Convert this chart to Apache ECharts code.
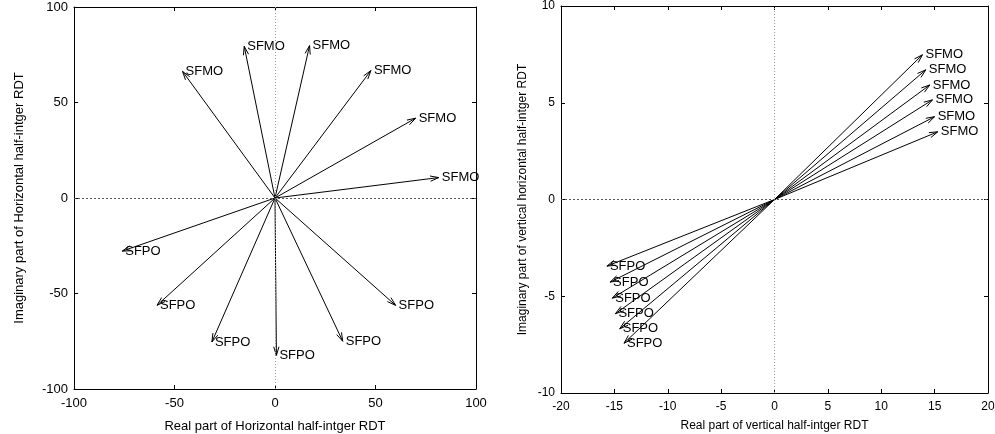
<!DOCTYPE html>
<html>
<head>
<meta charset="utf-8">
<script src="https://cdn.jsdelivr.net/npm/echarts@6/dist/echarts.min.js"></script>
<style>
  html, body { margin: 0; padding: 0; background: #fff; }
  #chart { width: 995px; height: 434px; }
</style>
</head>
<body>
<div id="chart"></div>
<script>
// horizontal half-integer RDT (left panel)
const hMoRe = [-46, -15.3, 17.2, 47.7, 70, 81.5]
const hMoIm = [66.3, 79.4, 79.8, 66.7, 41.8, 10.7]
const hPoRe = [-76, -58.7, -31.4, 0.7, 33.7, 60]
const hPoIm = [-27.8, -56.2, -75.4, -82.4, -75, -56.2]

// vertical half-integer RDT (right panel)
const vMoRe = [13.86, 14.17, 14.55, 14.8, 15.0, 15.3]
const vMoIm = [7.48, 6.7, 5.92, 5.15, 4.28, 3.5]
const vPoRe = [-15.7, -15.4, -15.2, -14.9, -14.5, -14.1]
const vPoIm = [-3.44, -4.27, -5.1, -5.9, -6.68, -7.43]

const hTicks = [-100, -50, 0, 50, 100]
const vTicksX = [-20, -15, -10, -5, 0, 5, 10, 15, 20]
const vTicksY = [-10, -5, 0, 5, 10]

const FONT = 'Liberation Sans, Arial, sans-serif'

function toData(re, im, name) {
  return re.map((x, i) => [x, im[i], name])
}

function renderArrow(params, api) {
  const o = api.coord([0, 0])
  const t = api.coord([api.value(0), api.value(1)])
  const dx = o[0] - t[0]
  const dy = o[1] - t[1]
  const len = Math.sqrt(dx * dx + dy * dy)
  const ux = dx / len
  const uy = dy / len
  const a = 17 * Math.PI / 180
  const hl = 9
  const h1 = [t[0] + hl * (ux * Math.cos(a) - uy * Math.sin(a)), t[1] + hl * (ux * Math.sin(a) + uy * Math.cos(a))]
  const h2 = [t[0] + hl * (ux * Math.cos(-a) - uy * Math.sin(-a)), t[1] + hl * (ux * Math.sin(-a) + uy * Math.cos(-a))]
  const stroke = { stroke: '#000', lineWidth: 1, fill: null }
  return {
    type: 'group',
    children: [
      { type: 'line', shape: { x1: o[0], y1: o[1], x2: t[0], y2: t[1] }, style: stroke },
      { type: 'polyline', shape: { points: [h1, t, h2] }, style: stroke },
      {
        type: 'text',
        style: {
          x: t[0] + 3, y: t[1], text: api.value(2),
          fill: '#000', font: '13px ' + FONT,
          verticalAlign: 'middle', align: 'left'
        }
      }
    ]
  }
}

const zeroLines = {
  silent: true,
  symbol: 'none',
  label: { show: false },
  lineStyle: { type: [2, 2], width: 1, color: '#555' },
  data: [
    { xAxis: 0, lineStyle: { type: [1, 2], color: '#999' } },
    { yAxis: 0 }
  ]
}

function axisPair(min, max, interval, fontSize, name, nameGap, gridIndex, isY) {
  const main = {
    type: 'value', gridIndex, min, max, interval,
    position: isY ? 'left' : 'bottom',
    name, nameLocation: 'middle', nameGap,
    nameTextStyle: { color: '#000', fontFamily: FONT, fontSize: fontSize },
    axisLine: { show: true, onZero: false, lineStyle: { color: '#000', width: 1 } },
    axisTick: { show: true, inside: true, length: 4, lineStyle: { color: '#000' } },
    axisLabel: { color: '#000', fontFamily: FONT, fontSize: fontSize, margin: isY ? 6 : 8 },
    splitLine: { show: false }
  }
  const mirror = {
    type: 'value', gridIndex, min, max, interval,
    position: isY ? 'right' : 'top',
    axisLine: { show: true, onZero: false, lineStyle: { color: '#000', width: 1 } },
    axisTick: { show: true, inside: true, length: 4, lineStyle: { color: '#000' } },
    axisLabel: { show: false },
    splitLine: { show: false }
  }
  return [main, mirror]
}

const chart = echarts.init(document.getElementById('chart'))

const option = {
  animation: false,
  backgroundColor: '#fff',
  grid: [
    { left: 74, right: 519, top: 7, bottom: 45, outerBoundsMode: 'none', containLabel: false },
    { left: 561, right: 7, top: 6, bottom: 41, outerBoundsMode: 'none', containLabel: false }
  ],
  xAxis: [
    ...axisPair(hTicks[0], hTicks[hTicks.length - 1], 50, 13, 'Real part of Horizontal half-intger RDT', 31, 0, false),
    ...axisPair(vTicksX[0], vTicksX[vTicksX.length - 1], 5, 12, 'Real part of vertical half-intger RDT', 27, 1, false)
  ],
  yAxis: [
    ...axisPair(hTicks[0], hTicks[hTicks.length - 1], 50, 13, 'Imaginary part of Horizontal half-intger RDT', 48, 0, true),
    ...axisPair(vTicksY[0], vTicksY[vTicksY.length - 1], 5, 12, 'Imaginary part of vertical horizontal half-intger RDT', 32, 1, true)
  ],
  series: [
    {
      type: 'custom', xAxisIndex: 0, yAxisIndex: 0,
      renderItem: renderArrow, clip: false,
      encode: { x: 0, y: 1 },
      data: toData(hMoRe, hMoIm, 'SFMO').concat(toData(hPoRe, hPoIm, 'SFPO')),
      markLine: zeroLines
    },
    {
      type: 'custom', xAxisIndex: 2, yAxisIndex: 2,
      renderItem: renderArrow, clip: false,
      encode: { x: 0, y: 1 },
      data: toData(vMoRe, vMoIm, 'SFMO').concat(toData(vPoRe, vPoIm, 'SFPO')),
      markLine: zeroLines
    }
  ]
}

chart.setOption(option)
</script>
</body>
</html>
